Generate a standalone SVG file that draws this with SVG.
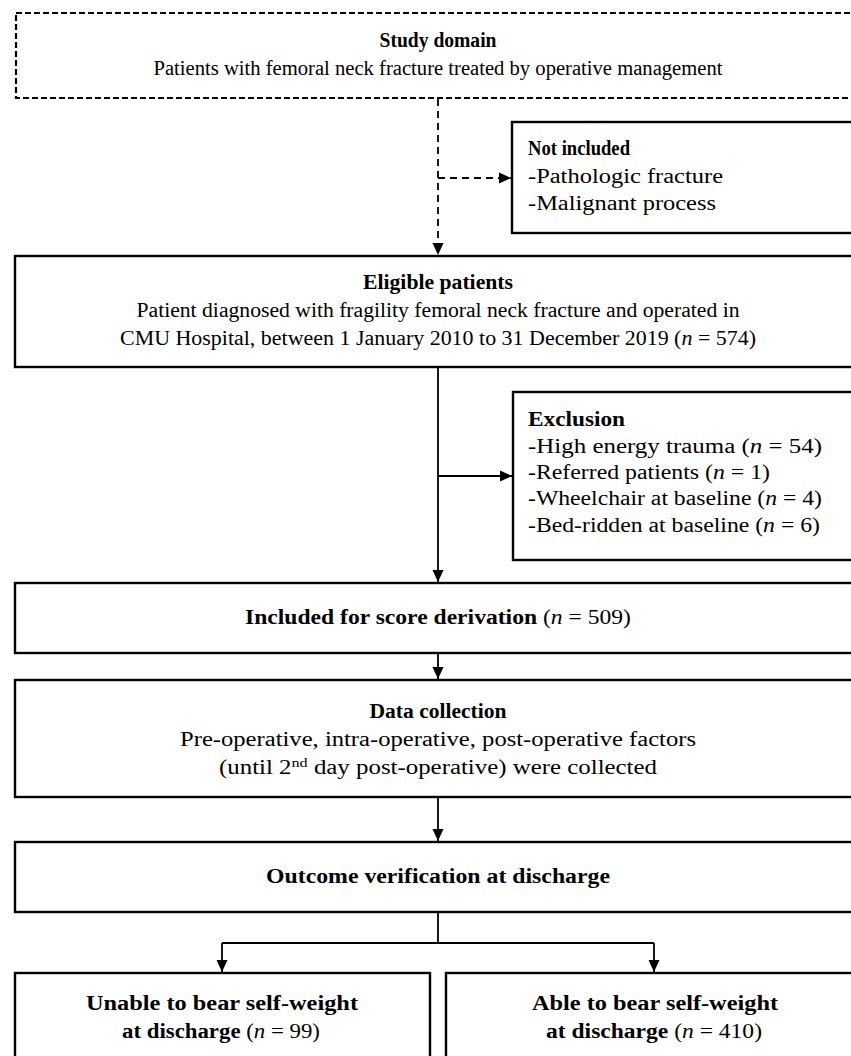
<svg xmlns="http://www.w3.org/2000/svg" width="851" height="1056" viewBox="0 0 851 1056">
<defs>
<style>
.box{fill:#fff;stroke:#000;stroke-width:2.4}
.dbox{fill:#fff;stroke:#000;stroke-width:2.2;stroke-dasharray:6,3}
.ln{fill:none;stroke:#000;stroke-width:1.8}
.dln{fill:none;stroke:#000;stroke-width:1.8;stroke-dasharray:7,5}
text{font-family:"Liberation Serif","Times New Roman",serif;font-size:20px;fill:#000}
.c{text-anchor:middle}
.b{font-weight:bold}
.i{font-style:italic}
</style>
<marker id="ah" viewBox="0 0 12 12" refX="12" refY="6" markerWidth="12" markerHeight="12" markerUnits="userSpaceOnUse" orient="auto">
<path d="M0,0.5 L12,6 L0,11.5 z" fill="#000"/>
</marker>
</defs>
<g id="connectors">
<line class="dln" x1="438" y1="99" x2="438" y2="255" marker-end="url(#ah)"/>
<line class="dln" x1="438" y1="178" x2="511" y2="178" marker-end="url(#ah)"/>
<line class="ln" x1="438" y1="367" x2="438" y2="582" marker-end="url(#ah)"/>
<line class="ln" x1="438" y1="476" x2="512" y2="476" marker-end="url(#ah)"/>
<line class="ln" x1="438" y1="653" x2="438" y2="679" marker-end="url(#ah)"/>
<line class="ln" x1="438" y1="797" x2="438" y2="841" marker-end="url(#ah)"/>
<path class="ln" d="M438,912 V943 M222,943 H654"/>
<line class="ln" x1="222" y1="943" x2="222" y2="972" marker-end="url(#ah)"/>
<line class="ln" x1="654" y1="943" x2="654" y2="972" marker-end="url(#ah)"/>
</g>
<g id="study-domain">
<rect class="dbox" x="16" y="13" width="846" height="85"/>
<text class="c b" x="438" y="47" textLength="117" lengthAdjust="spacingAndGlyphs">Study domain</text>
<text class="c" x="438" y="75" textLength="569" lengthAdjust="spacingAndGlyphs">Patients with femoral neck fracture treated by operative management</text>
</g>
<g id="not-included">
<rect class="box" x="512" y="122" width="350" height="111"/>
<text class="b" x="528" y="155" textLength="102" lengthAdjust="spacingAndGlyphs">Not included</text>
<text x="528" y="183" textLength="195" lengthAdjust="spacingAndGlyphs">-Pathologic fracture</text>
<text x="528" y="210" textLength="188" lengthAdjust="spacingAndGlyphs">-Malignant process</text>
</g>
<g id="eligible">
<rect class="box" x="15" y="256" width="847" height="111"/>
<text class="c b" x="438" y="289" textLength="150" lengthAdjust="spacingAndGlyphs">Eligible patients</text>
<text class="c" x="438" y="317" textLength="603" lengthAdjust="spacingAndGlyphs">Patient diagnosed with fragility femoral neck fracture and operated in</text>
<text class="c" x="438" y="345" textLength="636" lengthAdjust="spacingAndGlyphs">CMU Hospital, between 1 January 2010 to 31 December 2019 (<tspan class="i">n</tspan> = 574)</text>
</g>
<g id="exclusion">
<rect class="box" x="513" y="392" width="349" height="168"/>
<text class="b" x="528" y="426" textLength="97" lengthAdjust="spacingAndGlyphs">Exclusion</text>
<text x="528" y="453" textLength="294" lengthAdjust="spacingAndGlyphs">-High energy trauma (<tspan class="i">n</tspan> = 54)</text>
<text x="528" y="479" textLength="242" lengthAdjust="spacingAndGlyphs">-Referred patients (<tspan class="i">n</tspan> = 1)</text>
<text x="528" y="505" textLength="294" lengthAdjust="spacingAndGlyphs">-Wheelchair at baseline (<tspan class="i">n</tspan> = 4)</text>
<text x="528" y="532" textLength="292" lengthAdjust="spacingAndGlyphs">-Bed-ridden at baseline (<tspan class="i">n</tspan> = 6)</text>
</g>
<g id="included">
<rect class="box" x="15" y="583" width="847" height="70"/>
<text class="c" x="438" y="624" textLength="386" lengthAdjust="spacingAndGlyphs"><tspan class="b">Included for score derivation</tspan> (<tspan class="i">n</tspan> = 509)</text>
</g>
<g id="data-collection">
<rect class="box" x="15" y="680" width="847" height="117"/>
<text class="c b" x="438" y="718" textLength="137" lengthAdjust="spacingAndGlyphs">Data collection</text>
<text class="c" x="438" y="746" textLength="516" lengthAdjust="spacingAndGlyphs">Pre-operative, intra-operative, post-operative factors</text>
<text class="c" x="438" y="774" textLength="438" lengthAdjust="spacingAndGlyphs">(until 2<tspan font-size="13" dy="-7">nd</tspan><tspan dy="7"> day post-operative) were collected</tspan></text>
</g>
<g id="outcome">
<rect class="box" x="15" y="842" width="847" height="70"/>
<text class="c b" x="438" y="883" textLength="344" lengthAdjust="spacingAndGlyphs">Outcome verification at discharge</text>
</g>
<g id="unable">
<rect class="box" x="15" y="973" width="415" height="100"/>
<text class="c b" x="222" y="1010" textLength="272" lengthAdjust="spacingAndGlyphs">Unable to bear self-weight</text>
<text class="c" x="221" y="1038" textLength="198" lengthAdjust="spacingAndGlyphs"><tspan class="b">at discharge</tspan> (<tspan class="i">n</tspan> = 99)</text>
</g>
<g id="able">
<rect class="box" x="446" y="973" width="418" height="100"/>
<text class="c b" x="655" y="1010" textLength="246" lengthAdjust="spacingAndGlyphs">Able to bear self-weight</text>
<text class="c" x="654" y="1038" textLength="216" lengthAdjust="spacingAndGlyphs"><tspan class="b">at discharge</tspan> (<tspan class="i">n</tspan> = 410)</text>
</g>
</svg>
